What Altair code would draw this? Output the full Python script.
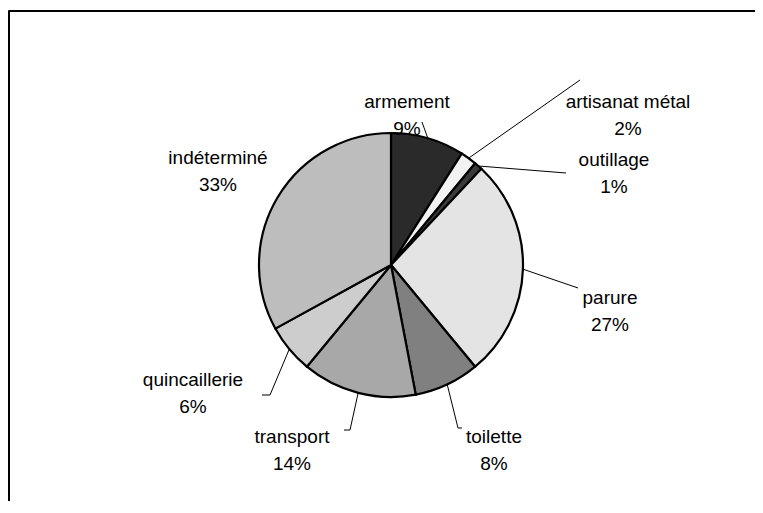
import altair as alt
import pandas as pd

# ---- data ----
categories = ["armement", "artisanat métal", "outillage", "parure",
              "toilette", "transport", "quincaillerie", "indéterminé"]
values = [9, 2, 1, 27, 8, 14, 6, 33]

# ---- styles / layout (not data) ----
greys = ["#2a2a2a", "#f2f2f2", "#3a3a3a", "#e4e4e4",
         "#808080", "#a8a8a8", "#cdcdcd", "#bdbdbd"]
W, H = 747, 493
CX, CY, R = 383, 257, 132
# first-line centre of each label block (chart px)
label_xy = {
    "armement": (399, 94), "artisanat métal": (620, 94),
    "outillage": (606, 152), "parure": (602, 290),
    "toilette": (486, 429), "transport": (284, 429),
    "quincaillerie": (185, 372), "indéterminé": (210, 150),
}
# leader bend and end points (chart px); None = no leader
leader = {
    "armement": ((414, 114), (414, 114)),
    "artisanat métal": ((572, 72), (572, 72)),
    "outillage": ((558, 165), (558, 165)),
    "parure": ((570, 280), (570, 280)),
    "toilette": ((450, 420), (454, 420)),
    "transport": ((342, 422), (336, 422)),
    "quincaillerie": ((262, 387), (254, 387)),
    "indéterminé": None,
}

df = pd.DataFrame({"category": categories, "value": values,
                   "order": list(range(len(categories)))})
lab = pd.DataFrame({
    "category": categories, "value": values,
    "lx": [label_xy[c][0] for c in categories],
    "ly": [label_xy[c][1] for c in categories],
})
lead_rows = []
for i, c in enumerate(categories):
    if leader[c] is None:
        continue
    (bx, by), (ex, ey) = leader[c]
    lead_rows.append({"category": c, "bx": bx, "by": by, "ex": ex, "ey": ey})
lead = pd.DataFrame(lead_rows)

pie = alt.Chart(df).mark_arc(radius=R, stroke="black", strokeWidth=2.2).encode(
    theta=alt.Theta("value:Q", stack=True),
    order=alt.Order("order:Q"),
    color=alt.Color("category:N", scale=alt.Scale(domain=categories, range=greys), legend=None),
    x=alt.value(CX), y=alt.value(CY),
)

# leader start on the arc at each slice's mid angle
base_lead = alt.Chart(df).transform_joinaggregate(
    total="sum(value)"
).transform_window(
    cum="sum(value)", sort=[alt.SortField("order")]
).transform_calculate(
    mid="(datum.cum - datum.value/2) / datum.total * 2 * PI",
).transform_calculate(
    sx=f"{CX} + {R} * sin(datum.mid)",
    sy=f"{CY} - {R} * cos(datum.mid)",
).transform_lookup(
    lookup="category", from_=alt.LookupData(lead, "category", ["bx", "by", "ex", "ey"])
).transform_filter("isValid(datum.bx)")

seg1 = base_lead.mark_rule(color="black", strokeWidth=1).encode(
    x=alt.X("sx:Q", scale=None), y=alt.Y("sy:Q", scale=None),
    x2="bx:Q", y2="by:Q",
)
seg2 = base_lead.mark_rule(color="black", strokeWidth=1).encode(
    x=alt.X("bx:Q", scale=None), y=alt.Y("by:Q", scale=None),
    x2="ex:Q", y2="ey:Q",
)

labels = alt.Chart(lab).transform_calculate(
    txt="datum.category + '\\n' + datum.value + '%'"
).mark_text(font="Liberation Sans", fontSize=19, lineBreak="\n", lineHeight=27,
            align="center", baseline="middle", color="black").encode(
    x=alt.X("lx:Q", scale=None), y=alt.Y("ly:Q", scale=None), text="txt:N",
)

frame_top = alt.Chart(df).mark_rule(color="black", strokeWidth=1.5).encode(
    x=alt.value(0.8), x2=alt.value(W), y=alt.value(3)
)
frame_left = alt.Chart(df).mark_rule(color="black", strokeWidth=1.5).encode(
    x=alt.value(0.8), y=alt.value(3), y2=alt.value(H)
)

chart = alt.layer(frame_top, frame_left, seg1, seg2, pie, labels).properties(
    width=W, height=H, autosize=alt.AutoSizeParams(type="none"), padding=0
).configure_view(stroke=None)

chart.save("out.html", embed_options={"renderer": "svg", "actions": False})
